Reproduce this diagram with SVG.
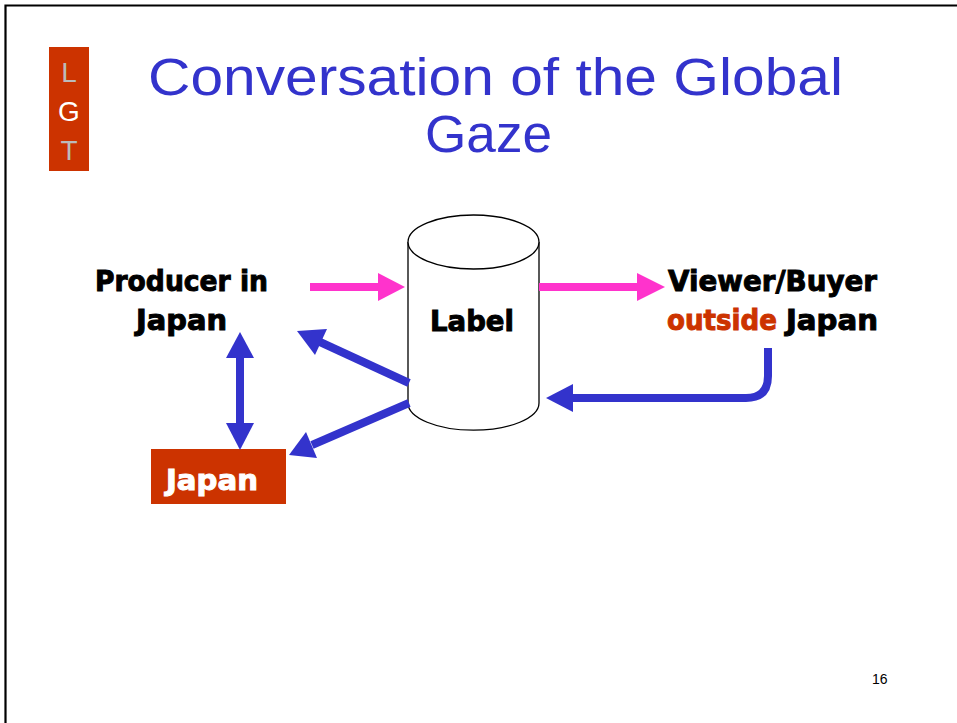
<svg xmlns="http://www.w3.org/2000/svg" width="957" height="723" viewBox="0 0 957 723">
<style>
.lbl{font-family:"DejaVu Sans","Liberation Sans",sans-serif;font-weight:bold;font-size:29px;fill:#000;stroke:#000;stroke-width:1}
.title{font-family:"Liberation Sans",Arial,sans-serif;font-size:51px;fill:#3333CC}
.blue{stroke:#3333CC;stroke-width:8;fill:none}
.bluehead{fill:#3333CC}
.pink{stroke:#FF33CC;stroke-width:8;fill:none}
.pinkhead{fill:#FF33CC}
</style>
<rect width="957" height="723" fill="#fff"/>
<path d="M5.5,723 V5.5 H957" fill="none" stroke="#000" stroke-width="2.2"/>
<g id="logo">
<rect x="49" y="47" width="40" height="124" fill="#CC3300"/>
<text x="69" y="82" text-anchor="middle" font-family="Liberation Sans,Arial,sans-serif" font-size="28" fill="#BBBBBB">L</text>
<text x="69" y="121" text-anchor="middle" font-family="Liberation Sans,Arial,sans-serif" font-size="28" fill="#FFFFFF">G</text>
<text x="69" y="160" text-anchor="middle" font-family="Liberation Sans,Arial,sans-serif" font-size="28" fill="#BBBBBB">T</text>
</g>
<g id="title">
<text class="title" x="148" y="95" textLength="695" lengthAdjust="spacingAndGlyphs">Conversation of the Global</text>
<text class="title" x="425" y="152" textLength="127" lengthAdjust="spacingAndGlyphs">Gaze</text>
</g>
<g id="producer">
<text class="lbl" x="95" y="291" textLength="173" lengthAdjust="spacingAndGlyphs">Producer in</text>
<text class="lbl" x="136" y="330" textLength="91" lengthAdjust="spacingAndGlyphs">Japan</text>
</g>
<g id="label">
<path d="M408,242 V403 A65,27 0 0 0 539,403 V242" fill="#fff" stroke="#000" stroke-width="1.3"/>
<ellipse cx="473.5" cy="242" rx="65.5" ry="27" fill="#fff" stroke="#000" stroke-width="1.3"/>
<text class="lbl" x="430" y="331" textLength="84" lengthAdjust="spacingAndGlyphs">Label</text>
</g>
<g id="viewer">
<text class="lbl" x="668" y="291" textLength="209" lengthAdjust="spacingAndGlyphs">Viewer/Buyer</text>
<text class="lbl" x="667" y="330" textLength="110" lengthAdjust="spacingAndGlyphs" style="fill:#CC3300;stroke:#CC3300">outside</text>
<text class="lbl" x="786" y="330" textLength="92" lengthAdjust="spacingAndGlyphs">Japan</text>
</g>
<g id="japan">
<rect x="151" y="449" width="135" height="55" fill="#CC3300"/>
<text class="lbl" x="166" y="490" textLength="92" lengthAdjust="spacingAndGlyphs" style="fill:#fff;stroke:#fff">Japan</text>
</g>
<g id="connectors">
<line class="pink" x1="310" y1="287" x2="380" y2="287"/>
<polygon class="pinkhead" points="378,273 405,287 378,301"/>
<line class="pink" x1="539" y1="287" x2="640" y2="287"/>
<polygon class="pinkhead" points="637,273 665,287 637,301"/>
<line class="blue" x1="240" y1="355" x2="240" y2="426"/>
<polygon class="bluehead" points="240,332 254,358 226,358"/>
<polygon class="bluehead" points="240,450 254,423 226,423"/>
<line class="blue" x1="409" y1="383" x2="320" y2="342"/>
<polygon class="bluehead" points="297,331 327,329 315,355"/>
<line class="blue" x1="409" y1="403" x2="312" y2="445"/>
<polygon class="bluehead" points="289,455 306,432 317,458"/>
<path class="blue" d="M768,348 V376 Q768,398 746,398 H570"/>
<polygon class="bluehead" points="546,398 573,384 573,412"/>
</g>
<text x="872" y="684" font-family="Liberation Sans,Arial,sans-serif" font-size="14" fill="#000">16</text>
</svg>
